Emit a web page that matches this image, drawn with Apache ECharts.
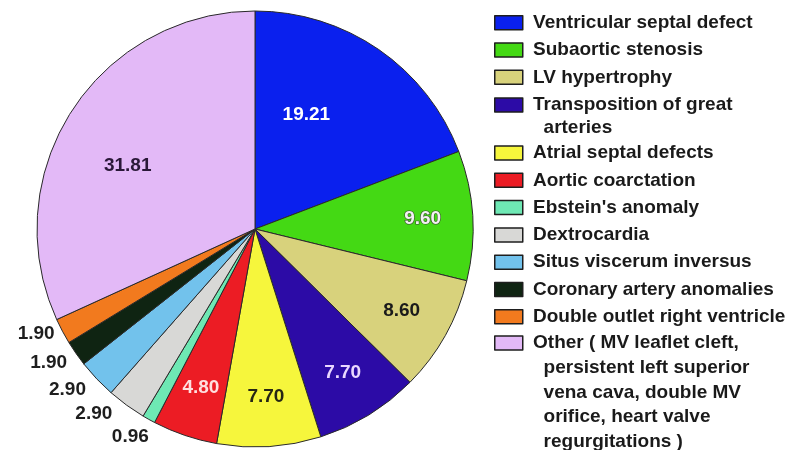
<!DOCTYPE html>
<html>
<head>
<meta charset="utf-8">
<script src="https://cdn.jsdelivr.net/npm/echarts@6/dist/echarts.min.js"></script>
<style>
html,body{margin:0;padding:0;background:#fff;}
#chart{width:792px;height:450px;}
</style>
</head>
<body>
<div id="chart"></div>
<script>
// ---- data ----
const names = [
  "Ventricular septal defect",
  "Subaortic stenosis",
  "LV hypertrophy",
  "Transposition of great arteries",
  "Atrial septal defects",
  "Aortic coarctation",
  "Ebstein's anomaly",
  "Dextrocardia",
  "Situs viscerum inversus",
  "Coronary artery anomalies",
  "Double outlet right ventricle",
  "Other ( MV leaflet cleft, persistent left superior vena cava, double MV orifice, heart valve regurgitations)"
];
const values = [19.21, 9.60, 8.60, 7.70, 7.70, 4.80, 0.96, 2.90, 2.90, 1.90, 1.90, 31.81];
const valueLabels = ["19.21", "9.60", "8.60", "7.70", "7.70", "4.80", "0.96", "2.90", "2.90", "1.90", "1.90", "31.81"];
const legendLabels = [
  "Ventricular septal defect",
  "Subaortic stenosis",
  "LV hypertrophy",
  "Transposition of great\n  arteries",
  "Atrial septal defects",
  "Aortic coarctation",
  "Ebstein's anomaly",
  "Dextrocardia",
  "Situs viscerum inversus",
  "Coronary artery anomalies",
  "Double outlet right ventricle",
  "Other ( MV leaflet cleft,\n  persistent left superior\n  vena cava, double MV\n  orifice, heart valve\n  regurgitations )"
];
const colors = ["#0a20ee", "#44d914", "#d8d27c", "#2c0ba6", "#f6f63c", "#ec1c24", "#6ee8b4", "#d8d8d6", "#72c2ec", "#0f2412", "#f27a1e", "#e3b9f7"];
const labelColors = ["#ffffff", "#f2f2f2", "#1a1a1a", "#ead8ff", "#262614", "#ffe0e0", "#1e1e1e", "#1e1e1e", "#1e1e1e", "#1e1e1e", "#1e1e1e", "#2a1838"];

// ---- chart ----
const FONT = "'Liberation Sans', Arial, sans-serif";
const chart = echarts.init(document.getElementById('chart'), null, {renderer: 'canvas'});

const pieData = names.map((n, i) => ({name: n, value: values[i], itemStyle: {color: colors[i]}}));
const labelData = names.map((n, i) => {
  const inside = values[i] >= 4;
  return {
    name: n,
    value: values[i],
    label: {
      show: true,
      position: inside ? 'inside' : 'outside',
      color: labelColors[i],
      textBorderColor: i === 1 ? '#3a4a30' : 'transparent',
      textBorderWidth: i === 1 ? 1.2 : 0
    }
  };
});

const legendBase = {
  orient: 'vertical',
  left: 494,
  icon: 'rect',
  itemWidth: 28,
  itemHeight: 14,
  padding: 0,
  selectedMode: false,
  itemStyle: {borderColor: '#1e1e1e', borderWidth: 1.5},
  textStyle: {fontFamily: FONT, fontWeight: 'bold', fontSize: 19, color: '#1a1a1a', lineHeight: 24},
  formatter: function (name) {
    const t = legendLabels[names.indexOf(name)];
    const extra = (t.match(/\n/g) || []).length;
    return '\n'.repeat(extra) + ' ' + t.replace(/\n/g, '\n ');
  }
};

const option = {
  backgroundColor: '#ffffff',
  animation: false,
  legend: [
    Object.assign({}, legendBase, {data: names.slice(0, 3), top: 10.7, itemGap: 3.3}),
    Object.assign({}, legendBase, {data: names.slice(3, 4), top: 70.5, itemGap: 0,
      textStyle: Object.assign({}, legendBase.textStyle, {lineHeight: 23})}),
    Object.assign({}, legendBase, {data: names.slice(4, 11), top: 141, itemGap: 3.3}),
    Object.assign({}, legendBase, {data: names.slice(11), top: 231.6, itemGap: 0,
      textStyle: Object.assign({}, legendBase.textStyle, {lineHeight: 24.75})})
  ],
  series: [
    {
      type: 'pie',
      center: [255, 229],
      radius: [0, 218],
      startAngle: 90,
      clockwise: true,
      silent: true,
      avoidLabelOverlap: false,
      label: {show: false},
      labelLine: {show: false},
      itemStyle: {borderColor: '#2a2a2a', borderWidth: 1},
      data: pieData
    },
    {
      type: 'pie',
      center: [255, 229],
      radius: [112, 218],
      startAngle: 90,
      clockwise: true,
      silent: true,
      itemStyle: {color: 'transparent', borderWidth: 0},
      label: {
        fontFamily: FONT,
        fontWeight: 'bold',
        fontSize: 19,
        formatter: function (p) { return valueLabels[p.dataIndex]; }
      },
      labelLine: {show: false, length: 6, length2: 0},
      labelLayout: function (params) {
        const nudge = {0: [-44, 24], 11: [14, 28], 9: [0, 6], 8: [0, 7], 7: [0, 4], 6: [8, 6]};
        const o = nudge[params.dataIndex];
        return o ? {dx: o[0], dy: o[1]} : {};
      },
      data: labelData
    }
  ]
};
chart.setOption(option);
</script>
</body>
</html>
